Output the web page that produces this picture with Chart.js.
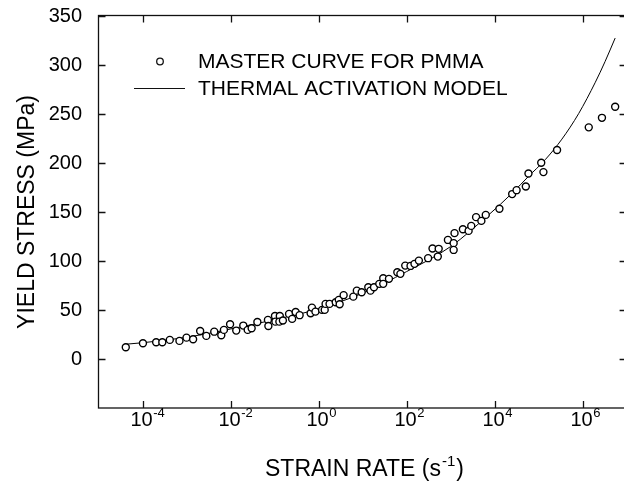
<!DOCTYPE html>
<html>
<head>
<meta charset="utf-8">
<script src="https://cdn.jsdelivr.net/npm/chart.js@4.4.0/dist/chart.umd.min.js"></script>
<style>
html,body{margin:0;padding:0;background:#fff;}
#wrap{width:624px;height:483px;overflow:hidden;}
</style>
</head>
<body>
<div id="wrap"><canvas id="yieldChart" width="632" height="483"></canvas></div>
<script>
'use strict'

/* master curve points: strain rate as log10 exponent, yield stress in MPa */
const masterRateExp = [-4.38,-3.99,-3.69,-3.55,-3.38,-3.16,-3.00,-2.85,-2.69,-2.55,-2.37,-2.21,-2.15,-2.01,-1.87,-1.71,-1.61,-1.52,-1.39,-1.15,-1.14,-0.99,-0.98,-0.88,-0.89,-0.81,-0.67,-0.60,-0.52,-0.43,-0.18,-0.15,-0.07,0.08,0.14,0.16,0.25,0.39,0.46,0.48,0.57,0.79,0.87,0.98,1.13,1.18,1.26,1.38,1.47,1.47,1.60,1.79,1.86,1.97,2.09,2.18,2.28,2.49,2.59,2.73,2.71,2.94,3.07,3.07,3.09,3.28,3.41,3.47,3.58,3.70,3.80,4.11,4.40,4.50,4.71,4.77,5.06,5.11,5.42,6.14,6.44,6.74];
const masterStress = [11.9,16.0,17.0,17.0,19.4,18.4,21.7,20.1,28.5,23.5,27.8,24.2,29.6,35.4,28.9,34.0,29.6,31.3,37.7,39.8,33.6,43.8,38.0,43.8,38.0,39.1,45.9,40.8,47.9,44.6,46.6,52.3,48.2,50.0,50.0,56.1,56.1,57.8,60.2,55.8,65.0,63.5,69.6,68.0,73.1,69.6,73.1,76.5,82.3,76.5,81.6,88.4,86.7,95.1,94.8,96.9,100.2,102.7,112.5,112.2,104.3,121.3,118.0,111.1,128.2,132.2,130.5,135.6,144.5,140.7,146.8,153,168,172,175.7,189,200,190.4,213,236,245.7,257];

/* thermal activation model */
const modelRateExp = [-4.38,-4.0,-3.0,-2.0,-1.0,0.0,1.0,2.0,3.0,3.87,4.40,4.77,5.15,5.53,5.91,6.29,6.51,6.74];
const modelStress = [15,16.5,22,30.5,40,51,67,89,114.5,147,169,186,203,224,250,282,303,327];

const xTickExp = [-4,-2,0,2,4,6];
const yTicks = [0,50,100,150,200,250,300,350];

const legendLabels = ['MASTER CURVE FOR PMMA','THERMAL ACTIVATION MODEL'];
const FONT = "'Liberation Sans', Arial, Helvetica, sans-serif";

const toPoints = (ex, ys) => ex.map((e, i) => ({x: Math.pow(10, e), y: ys[i]}));

/* frame, inward ticks, labels and legend */
const frame = {
  id: 'frame',
  afterDraw(chart) {
    const ctx = chart.ctx, a = chart.chartArea;
    const xs = chart.scales.x, ys = chart.scales.y;
    const tl = 7;
    ctx.save();
    ctx.strokeStyle = '#111';
    ctx.lineWidth = 1.3;
    ctx.strokeRect(a.left, a.top, a.right - a.left, a.bottom - a.top);

    ctx.beginPath();
    xTickExp.forEach(e => {
      const px = Math.round(xs.getPixelForValue(Math.pow(10, e))) + 0.5;
      ctx.moveTo(px, a.bottom); ctx.lineTo(px, a.bottom - tl);
      ctx.moveTo(px, a.top); ctx.lineTo(px, a.top + tl);
    });
    yTicks.forEach(v => {
      const py = Math.round(ys.getPixelForValue(v)) + 0.5;
      ctx.moveTo(a.left, py); ctx.lineTo(a.left + tl, py);
      ctx.moveTo(a.right, py); ctx.lineTo(a.right - tl, py);
    });
    ctx.stroke();

    ctx.fillStyle = '#000';
    // y tick labels
    ctx.font = '20px ' + FONT;
    ctx.textAlign = 'right';
    ctx.textBaseline = 'middle';
    yTicks.forEach(v => {
      ctx.fillText(String(v), 82, ys.getPixelForValue(v) + 1);
    });

    // x tick labels, 10 with exponent
    xTickExp.forEach(e => {
      const px = xs.getPixelForValue(Math.pow(10, e));
      ctx.font = '20px ' + FONT;
      ctx.textAlign = 'center';
      ctx.textBaseline = 'alphabetic';
      const w = ctx.measureText('10').width;
      ctx.fillText('10', px - 1, 426);
      ctx.font = '13px ' + FONT;
      ctx.textAlign = 'left';
      ctx.fillText(String(e), px - 1 + w / 2 + 0.5, 417);
    });

    // x title
    ctx.font = '23px ' + FONT;
    ctx.textAlign = 'left';
    ctx.textBaseline = 'alphabetic';
    const t1 = 'STRAIN RATE (s';
    let tx = 265;
    ctx.fillText(t1, tx, 476);
    tx += ctx.measureText(t1).width;
    ctx.font = '15px ' + FONT;
    ctx.fillText('-1', tx + 1, 466);
    tx += ctx.measureText('-1').width + 2;
    ctx.font = '23px ' + FONT;
    ctx.fillText(')', tx, 476);

    // y title
    ctx.save();
    ctx.translate(34, 212);
    ctx.rotate(-Math.PI / 2);
    ctx.textAlign = 'center';
    ctx.fillText('YIELD STRESS (MPa)', 0, 0);
    ctx.restore();

    // legend
    ctx.font = '21px ' + FONT;
    ctx.textAlign = 'left';
    ctx.textBaseline = 'middle';
    ctx.fillText(legendLabels[0], 198, 62);
    ctx.fillText(legendLabels[1], 198, 89);
    ctx.lineWidth = 1.3;
    ctx.beginPath();
    ctx.arc(160, 61.5, 3.3, 0, Math.PI * 2);
    ctx.stroke();
    ctx.lineWidth = 1;
    ctx.beginPath();
    ctx.moveTo(134, 88.5); ctx.lineTo(185, 88.5);
    ctx.stroke();
    ctx.restore();
  }
};

const ctx = document.getElementById('yieldChart').getContext('2d');
const chart = new Chart(ctx, {
  type: 'scatter',
  data: {
    datasets: [{
      label: legendLabels[0],
      data: toPoints(masterRateExp, masterStress),
      pointStyle: 'circle',
      pointRadius: 3.5,
      pointBorderWidth: 1.4,
      borderColor: '#000',
      backgroundColor: '#fff',
      showLine: false
    }, {
      label: legendLabels[1],
      data: toPoints(modelRateExp, modelStress),
      showLine: true,
      pointRadius: 0,
      borderColor: '#000',
      borderWidth: 1,
      tension: 0.4,
      cubicInterpolationMode: 'monotone'
    }]
  },
  options: {
    responsive: false,
    animation: false,
    devicePixelRatio: 1,
    layout: { padding: { left: 98.5, top: 15.5, right: 4, bottom: 75 } },
    plugins: { legend: { display: false }, tooltip: { enabled: false } },
    scales: {
      x: { type: 'logarithmic', min: 1e-5, max: 1e7, display: false },
      y: { type: 'linear', min: -50, max: 350, display: false }
    }
  },
  plugins: [frame]
});
</script>
</body>
</html>
